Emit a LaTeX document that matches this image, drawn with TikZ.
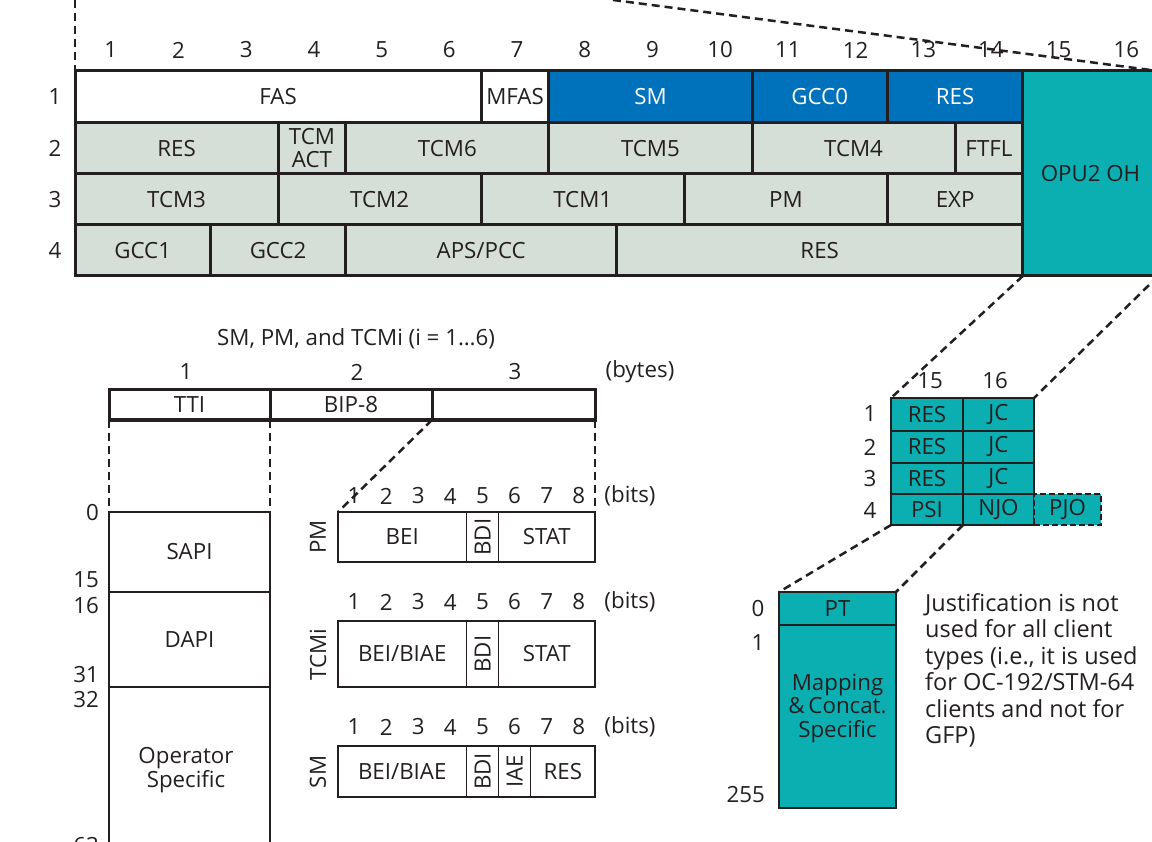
\documentclass[tikz,border=0pt]{standalone}
\usepackage{fontspec}
\usepackage{graphicx}
\setmainfont{Open Sans}
\definecolor{ink}{RGB}{35,31,32}
\definecolor{otnblue}{RGB}{0,114,188}
\definecolor{otngray}{RGB}{214,223,215}
\definecolor{otnteal}{RGB}{11,175,178}
\newcommand\lab{\fontsize{22.3}{24}\selectfont}
\newcommand\cellbox[7][]{%
  \pgfmathsetmacro\cw{#5-#3}\pgfmathsetmacro\ch{#6-#4}%
  \node[cellbase,#1,minimum width=\cw pt,minimum height=\ch pt,anchor=north west] (#2) at (#3,#4) {#7};}
\tikzset{
  cellbase/.style={draw=ink,line width=3pt,inner sep=0pt,outer sep=0pt,align=center,font=\lab,text=ink},
  thin/.style={line width=1.5pt},
  gray/.style={fill=otngray},
  blue/.style={fill=otnblue,text=white},
  teal/.style={fill=otnteal},
  txt/.style={font=\lab,text=ink,inner sep=0pt,align=center},
  dashline/.style={draw=ink,line width=2.5pt,dash pattern=on 8pt off 5pt},
}
\begin{document}
\begin{tikzpicture}[x=1pt,y=-1pt]
\useasboundingbox (0,0) rectangle (1152,842);
\clip (0,0) rectangle (1152,842);
% ---------- top frame ----------
\cellbox{fas}{75}{71}{481.2}{122.5}{FAS}
\cellbox{mfas}{481.2}{71}{548.9}{122.5}{MFAS}
\cellbox[blue]{sm}{548.9}{71}{752}{122.5}{SM}
\cellbox[blue]{gcc0}{752}{71}{887.4}{122.5}{GCC0}
\cellbox[blue]{resa}{887.4}{71}{1022.8}{122.5}{RES}
\cellbox[gray]{resb}{75}{122.5}{278.1}{174}{RES}
\cellbox[gray]{tcmact}{278.1}{122.5}{345.8}{174}{TCM\\[-0.6pt]ACT}
\cellbox[gray]{tcm6}{345.8}{122.5}{548.9}{174}{TCM6}
\cellbox[gray]{tcm5}{548.9}{122.5}{752}{174}{TCM5}
\cellbox[gray]{tcm4}{752}{122.5}{955.1}{174}{TCM4}
\cellbox[gray]{ftfl}{955.1}{122.5}{1022.8}{174}{FTFL}
\cellbox[gray]{tcm3}{75}{174}{278.1}{225}{TCM3}
\cellbox[gray]{tcm2}{278.1}{174}{481.2}{225}{TCM2}
\cellbox[gray]{tcm1}{481.2}{174}{684.3}{225}{TCM1}
\cellbox[gray]{pmf}{684.3}{174}{887.4}{225}{PM}
\cellbox[gray]{exp}{887.4}{174}{1022.8}{225}{EXP}
\cellbox[gray]{gcc1}{75}{225}{210.4}{276}{GCC1}
\cellbox[gray]{gcc2}{210.4}{225}{345.8}{276}{GCC2}
\cellbox[gray]{aps}{345.8}{225}{616.6}{276}{APS/PCC}
\cellbox[gray]{resc}{616.6}{225}{1022.8}{276}{RES}
\cellbox[teal]{opu}{1022.8}{71}{1158.2}{276}{OPU2 OH}
\foreach \i in {1,...,16} \node[txt] (col\i) at ({77+67.7*(\i-0.5)},50) {\i};
\node[txt] (row1) at (55,96.75) {1};
\node[txt] (row2) at (55,148.25) {2};
\node[txt] (row3) at (55,199.5) {3};
\node[txt] (row4) at (55,250.5) {4};
\coordinate (topl) at (75,0);
\coordinate (topm) at (613,0);
\draw[dashline] (topl) -- (fas.north west);
\draw[dashline] (topm) -- (opu.north east);
% ---------- OPU2 OH detail ----------
\cellbox[teal,thin]{j11}{891}{398}{963}{431}{RES}
\cellbox[teal,thin]{j12}{963}{398}{1034}{431}{JC}
\cellbox[teal,thin]{j21}{891}{431}{963}{463}{RES}
\cellbox[teal,thin]{j22}{963}{431}{1034}{463}{JC}
\cellbox[teal,thin]{j31}{891}{463}{963}{494}{RES}
\cellbox[teal,thin]{j32}{963}{463}{1034}{494}{JC}
\cellbox[teal,thin]{psi}{891}{494}{963}{525}{PSI}
\cellbox[teal,thin]{njo}{963}{494}{1034}{525}{NJO}
\cellbox[teal,line width=2pt,dash pattern=on 6pt off 3pt]{pjo}{1034}{494}{1101}{525}{PJO}
\node[txt] (c15) at (930,381) {15};
\node[txt] (c16) at (995,381) {16};
\node[txt] (jr1) at (870,414) {1};
\node[txt] (jr2) at (870,447) {2};
\node[txt] (jr3) at (870,479) {3};
\node[txt] (jr4) at (870,510) {4};
\draw[dashline] (opu.south west) -- (j11.north west);
\draw[dashline] (opu.south east) -- (j12.north east);
% ---------- PSI detail ----------
\cellbox[teal,thin]{pt}{779}{592}{896}{625}{PT}
\cellbox[teal,thin]{mapping}{779}{625}{896}{808}{}
\node[txt,font=\fontsize{22.3}{23.5}\selectfont] (maptxt) at (837.5,708) {Mapping\\\&\,Concat.\\Specific};
\node[txt] (p0) at (758,609) {0};
\node[txt] (p1) at (758,643) {1};
\node[txt,anchor=east] (p255) at (765,795) {255};
\draw[dashline] (psi.south west) -- (pt.north west);
\draw[dashline] (psi.south east) -- (pt.north east);
\node[txt,anchor=north west,align=left,font=\fontsize{23.5}{26.5}\selectfont] (note) at (925,593)
 {Justification is not\\used for all client\\types (i.e., it is used\\for OC-192/STM-64\\clients and not for\\GFP)};
% ---------- SM/PM/TCM ----------
\node[txt] (title) at (356,339) {SM, PM, and TCMi (i = 1…6)};
\node[txt] (by1) at (186,372) {1};
\node[txt] (by2) at (357,372) {2};
\node[txt] (by3) at (515,372) {3};
\node[txt] (bytes) at (640,372) {(bytes)};
\cellbox{tti}{109}{390}{270}{420}{TTI}
\cellbox{bip}{270}{390}{432}{420}{BIP-8}
\cellbox{bthree}{432}{390}{595}{420}{}
\cellbox[thin]{sapi}{109}{512}{270}{592}{SAPI}
\cellbox[thin]{dapi}{109}{592}{270}{687}{DAPI}
\cellbox[thin]{opsp}{109}{687}{270}{900}{}
\node[txt,font=\fontsize{22.3}{23.5}\selectfont] (optxt) at (186,770) {Operator\\Specific};
\node[txt,anchor=east] (s0) at (99,513) {0};
\node[txt,anchor=east] (s15) at (99,580) {15};
\node[txt,anchor=east] (s16) at (99,606) {16};
\node[txt,anchor=east] (s31) at (99,675) {31};
\node[txt,anchor=east] (s32) at (99,700) {32};
\node[txt,anchor=east] (s63) at (99,846) {63};
\draw[dashline] (tti.south west) -- (sapi.north west);
\draw[dashline] (tti.south east) -- (sapi.north east);
% PM
\cellbox[thin]{pmbei}{338}{512}{466.5}{562}{BEI}
\cellbox[thin]{pmbdi}{466.5}{512}{498.6}{562}{\rotatebox{90}{BDI}}
\cellbox[thin]{pmstat}{498.6}{512}{595}{562}{STAT}
\node[txt,rotate=90] (pmlab) at (318,537) {PM};
\foreach \i in {1,...,8} \node[txt] (pmb\i) at ({338+32.1*(\i-0.5)},496) {\i};
\node[txt] (pmbits) at (630,496) {(bits)};
\draw[dashline] (bthree.south west) -- (pmbei.north west);
\draw[dashline,shorten >=6pt] (bthree.south east) -- (pmstat.north east);
% TCMi
\cellbox[thin]{tcbei}{338}{621}{466.5}{687}{BEI/BIAE}
\cellbox[thin]{tcbdi}{466.5}{621}{498.6}{687}{\rotatebox{90}{BDI}}
\cellbox[thin]{tcstat}{498.6}{621}{595}{687}{STAT}
\node[txt,rotate=90] (tclab) at (318,655) {TCMi};
\foreach \i in {1,...,8} \node[txt] (tcb\i) at ({338+32.1*(\i-0.5)},602) {\i};
\node[txt] (tcbits) at (630,602) {(bits)};
% SM
\cellbox[thin]{smbei}{338}{746}{466.5}{797}{BEI/BIAE}
\cellbox[thin]{smbdi}{466.5}{746}{498.6}{797}{\rotatebox{90}{BDI}}
\cellbox[thin]{smiae}{498.6}{746}{530.7}{797}{\rotatebox{90}{IAE}}
\cellbox[thin]{smres}{530.7}{746}{595}{797}{RES}
\node[txt,rotate=90] (smlab) at (318,772) {SM};
\foreach \i in {1,...,8} \node[txt] (smb\i) at ({338+32.1*(\i-0.5)},727) {\i};
\node[txt] (smbits) at (630,727) {(bits)};
\end{tikzpicture}
\end{document}
